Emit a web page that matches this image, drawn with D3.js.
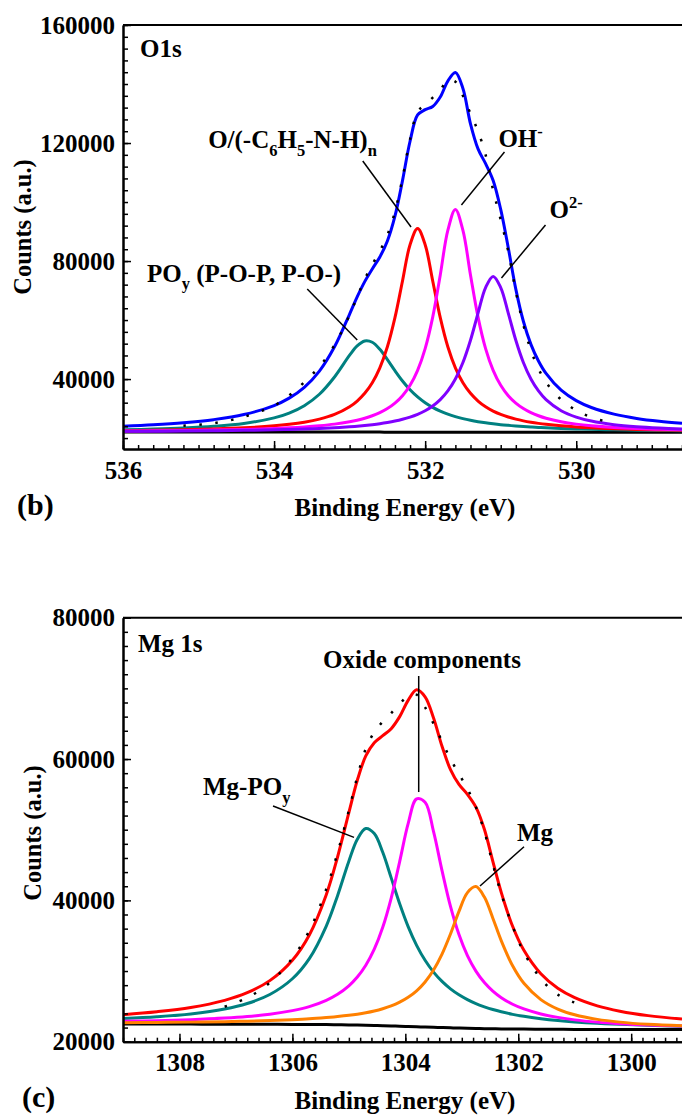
<!DOCTYPE html>
<html>
<head>
<meta charset="utf-8">
<script src="https://cdn.jsdelivr.net/npm/d3@7"></script>
<style>
	html, body { margin: 0; padding: 0; background: #ffffff; }
	svg text { font-family: "Liberation Serif", "Times New Roman", serif; font-weight: bold; fill: #000; white-space: pre; }
</style>
</head>
<body>
<div id="xps-figure"></div>
<script>
// ---- O 1s, panel (b) ----
const o1sEnergy = [536.0, 535.6, 535.2, 534.8, 534.4, 534.0, 533.8, 533.6, 533.4, 533.2, 533.0, 532.9, 532.8, 532.7, 532.6, 532.5, 532.4, 532.3, 532.2, 532.1, 532.0, 531.9, 531.8, 531.7, 531.6, 531.5, 531.4, 531.3, 531.2, 531.1, 531.0, 530.9, 530.8, 530.7, 530.6, 530.5, 530.4, 530.2, 530.0, 529.8, 529.5, 529.2, 528.9, 528.6];
const o1sBackground = [22050, 22050, 22050, 22050, 22050, 22050, 22050, 22050, 22050, 22040, 22040, 22030, 22030, 22020, 22020, 22010, 22010, 22000, 22000, 21990, 21990, 21980, 21980, 21970, 21970, 21960, 21960, 21960, 21950, 21950, 21950, 21950, 21950, 21950, 21950, 21950, 21950, 21950, 21950, 21950, 21950, 21950, 21950, 21950];
const o1sPOy = [22810, 23050, 23410, 23980, 24960, 26850, 28490, 30980, 34850, 40700, 48090, 51240, 52900, 52470, 50110, 46610, 42840, 39350, 36370, 33930, 31970, 30390, 29130, 28110, 27280, 26600, 26040, 25570, 25170, 24840, 24550, 24310, 24090, 23910, 23750, 23600, 23480, 23270, 23100, 22960, 22790, 22670, 22570, 22490];
const o1sPolymer = [22520, 22650, 22820, 23080, 23480, 24140, 24650, 25370, 26420, 28020, 30620, 32560, 35170, 38770, 43820, 50940, 60800, 73260, 85510, 91000, 85510, 73260, 60800, 50940, 43820, 38770, 35170, 32560, 30620, 29150, 28020, 27130, 26420, 25840, 25370, 24980, 24650, 24140, 23760, 23480, 23160, 22940, 22770, 22650];
const o1sHydroxide = [22370, 22450, 22560, 22700, 22910, 23240, 23470, 23770, 24180, 24730, 25530, 26060, 26720, 27560, 28620, 30010, 31860, 34380, 37910, 42970, 50330, 60990, 75310, 90380, 97500, 90380, 75310, 60990, 50330, 42970, 37910, 34380, 31860, 30010, 28620, 27560, 26720, 25530, 24730, 24180, 23610, 23240, 22980, 22800];
const o1sOxide = [22280, 22340, 22400, 22500, 22620, 22800, 22920, 23070, 23260, 23510, 23830, 24030, 24270, 24550, 24880, 25280, 25760, 26360, 27110, 28060, 29280, 30890, 33040, 35980, 40030, 45630, 53160, 62350, 71020, 74800, 71020, 62350, 53160, 45630, 40030, 35980, 33040, 29280, 27110, 25760, 24550, 23830, 23380, 23070];
const o1sEnvelope = [23990, 24480, 25180, 26250, 27970, 31030, 33530, 37190, 42690, 50930, 62040, 67860, 73030, 77310, 81370, 86790, 95190, 107270, 120600, 129500, 131300, 132400, 135600, 141000, 143900, 138500, 126500, 118000, 113000, 107300, 97500, 84500, 70500, 59600, 51760, 46120, 41900, 36220, 32700, 30370, 28110, 26670, 25700, 25010];
const o1sRawEnergy = [535.2, 534.8, 534.4, 534.0, 533.8, 533.6, 533.4, 533.2, 533.0, 532.9, 532.8, 532.7, 532.6, 532.5, 532.4, 532.3, 532.2, 532.1, 532.0, 531.9, 531.8, 531.7, 531.6, 531.5, 531.4, 531.3, 531.2, 531.1, 531.0, 530.9, 530.8, 530.7, 530.6, 530.5, 530.4, 530.2, 530.0, 529.8, 529.5];
const o1sRawCounts = [24180, 25050, 27170, 31030, 34430, 38990, 44190, 51530, 61740, 67860, 73830, 78810, 83370, 88790, 96690, 108070, 121300, 130560, 133090, 135400, 138000, 141300, 140800, 136000, 130000, 124000, 116000, 104000, 94000, 83300, 69700, 58400, 49760, 43520, 38900, 33020, 29400, 27070, 24910];
const o1sXTicks = [536, 534, 532, 530];
const o1sYTicks = [40000, 80000, 120000, 160000];

// ---- Mg 1s, panel (c) ----
const mg1sEnergy = [1309.0, 1308.4, 1307.8, 1307.2, 1306.8, 1306.4, 1306.0, 1305.7, 1305.4, 1305.2, 1305.0, 1304.85, 1304.7, 1304.55, 1304.4, 1304.25, 1304.1, 1303.95, 1303.8, 1303.65, 1303.5, 1303.35, 1303.2, 1303.05, 1302.9, 1302.75, 1302.6, 1302.45, 1302.3, 1302.1, 1301.9, 1301.6, 1301.3, 1301.0, 1300.6, 1300.2, 1299.7, 1299.1];
const mg1sBackground = [22500, 22500, 22490, 22480, 22470, 22460, 22450, 22430, 22420, 22400, 22370, 22350, 22320, 22290, 22260, 22220, 22190, 22150, 22110, 22070, 22030, 22000, 21960, 21930, 21900, 21870, 21850, 21830, 21810, 21790, 21780, 21770, 21750, 21740, 21730, 21730, 21720, 21720];
const mg1sPhosphate = [23270, 23530, 23930, 24620, 25400, 26680, 28910, 31760, 36370, 40670, 45540, 48650, 50170, 49460, 46800, 43180, 39520, 36290, 33640, 31520, 29850, 28530, 27480, 26640, 25960, 25390, 24940, 24550, 24230, 23870, 23590, 23260, 23000, 22800, 22600, 22460, 22310, 22190];
const mg1sOxideComp = [22880, 22980, 23120, 23340, 23560, 23890, 24400, 24970, 25860, 26710, 27910, 29150, 30820, 33090, 36190, 40330, 45490, 50860, 54350, 53880, 49720, 44210, 39140, 35160, 32180, 29990, 28370, 27160, 26230, 25300, 24640, 23930, 23440, 23090, 22770, 22550, 22360, 22210];
const mg1sMetal = [22690, 22730, 22770, 22840, 22910, 23000, 23120, 23240, 23420, 23560, 23730, 23890, 24090, 24340, 24660, 25060, 25590, 26280, 27200, 28450, 30140, 32390, 35240, 38440, 41100, 41950, 40460, 37480, 34270, 30740, 28260, 25960, 24620, 23810, 23160, 22770, 22460, 22240];
const mg1sEnvelope = [23830, 24240, 24840, 25850, 26930, 28640, 31530, 35110, 40800, 46140, 52430, 57000, 60440, 62310, 63300, 64300, 66000, 68300, 69800, 68800, 65800, 61800, 58500, 56400, 55000, 53200, 50060, 45530, 41100, 36330, 32930, 29610, 27560, 26230, 25070, 24320, 23690, 23200];
const mg1sRawEnergy = [1307.2, 1306.8, 1306.4, 1306.0, 1305.7, 1305.4, 1305.2, 1305.0, 1304.85, 1304.7, 1304.55, 1304.4, 1304.25, 1304.1, 1303.95, 1303.8, 1303.65, 1303.5, 1303.35, 1303.2, 1303.05, 1302.9, 1302.75, 1302.6, 1302.45, 1302.3, 1302.1, 1301.9, 1301.6, 1301.3, 1301.0];
const mg1sRawCounts = [24950, 26230, 28340, 31830, 35710, 41600, 46740, 52730, 57500, 61440, 63810, 65300, 66500, 67800, 68900, 69100, 67300, 65000, 62500, 60000, 57900, 55800, 53200, 49760, 45130, 40900, 36330, 32630, 28910, 26660, 25530];
const mg1sXTicks = [1308, 1306, 1304, 1302, 1300];
const mg1sYTicks = [20000, 40000, 60000, 80000];

class XpsPanelChart {
	constructor(options) { this.o = options; }

	// PRIVATE METHODS
	#styleAxis(sel, fontSize) {
		sel.attr('font-family', null).attr('font-size', null);
		sel.select('.domain').attr('stroke', '#000').attr('stroke-width', 2);
		sel.selectAll('.tick line').attr('stroke', '#000').attr('stroke-width', 1.5);
		sel.selectAll('text').style('font-size', `${fontSize}px`);
	}
	#richText(parent, pieces, size) {
		const text = parent.append('text').style('font-size', `${size}px`);
		let shift = 0;
		for (const [str, mode] of pieces) {
			const target = mode === 'sub' ? size * 0.3 : mode === 'sup' ? -size * 0.4 : 0;
			text.append('tspan')
				.attr('dy', target - shift)
				.style('font-size', mode ? `${size * 0.66}px` : `${size}px`)
				.text(str);
			shift = target;
		}
		return text;
	}

	// PUBLIC METHODS
	render(root) {
		const o = this.o, b = o.box;
		const x = d3.scaleLinear().domain(o.xDomain).range([b.left, b.right]);
		const y = d3.scaleLinear().domain(o.yDomain).range([b.bottom, b.top]);
		const g = root.append('g');

		g.append('clipPath').attr('id', `clip-${o.id}`)
			.append('rect')
			.attr('x', b.left).attr('y', b.top)
			.attr('width', b.right - b.left).attr('height', b.bottom - b.top);

		const line = d3.line()
			.x(d => x(d[0]))
			.y(d => y(d[1]))
			.curve(d3.curveCatmullRom.alpha(0.5));

		const plot = g.append('g').attr('clip-path', `url(#clip-${o.id})`);
		for (const s of o.series) {
			plot.append('path')
				.datum(d3.zip(s.energy, s.counts))
				.attr('fill', 'none')
				.attr('stroke', s.color)
				.attr('stroke-width', s.width)
				.attr('stroke-dasharray', s.dash || null)
				.attr('stroke-linejoin', 'round')
				.attr('d', line);
		}

		// Leader lines
		g.selectAll('line.leader')
			.data(o.leaders)
			.enter()
			.append('line')
			.attr('class', 'leader')
			.attr('x1', d => x(d[0])).attr('y1', d => y(d[1]))
			.attr('x2', d => x(d[2])).attr('y2', d => y(d[3]))
			.attr('stroke', '#000')
			.attr('stroke-width', 1.5);

		// Axes: minor ticks first, then labelled major ticks
		const xMinor = g.append('g').attr('transform', `translate(0,${b.bottom})`)
			.call(d3.axisBottom(x).tickValues(o.xMinor).tickSize(-4).tickSizeOuter(0).tickFormat(''));
		this.#styleAxis(xMinor, 25);
		const xMajor = g.append('g').attr('transform', `translate(0,${b.bottom})`)
			.call(d3.axisBottom(x).tickValues(o.xTicks).tickSize(-8).tickSizeOuter(0).tickPadding(12).tickFormat(d3.format('d')));
		this.#styleAxis(xMajor, 25);

		const yMinor = g.append('g').attr('transform', `translate(${b.left},0)`)
			.call(d3.axisLeft(y).tickValues(o.yMinor).tickSize(-5).tickSizeOuter(0).tickFormat(''));
		this.#styleAxis(yMinor, 25);
		const yMajor = g.append('g').attr('transform', `translate(${b.left},0)`)
			.call(d3.axisLeft(y).tickValues(o.yTicks).tickSize(-8).tickSizeOuter(0).tickPadding(8).tickFormat(d3.format('d')));
		this.#styleAxis(yMajor, 25);

		// Top frame
		g.append('line')
			.attr('x1', x.range()[0]).attr('x2', x.range()[1])
			.attr('y1', y.range()[1]).attr('y2', y.range()[1])
			.attr('stroke', '#000').attr('stroke-width', 2);

		// Labels inside the plot
		for (const lab of o.labels) {
			this.#richText(g, lab.pieces, lab.size || 25)
				.attr('x', x(lab.at[0]))
				.attr('y', y(lab.at[1]));
		}

		// Axis titles and panel letter
		g.append('text')
			.attr('x', o.xTitleAt[0]).attr('y', o.xTitleAt[1])
			.attr('text-anchor', 'middle')
			.style('font-size', '25px')
			.text('Binding Energy (eV)');
		g.append('text')
			.attr('transform', `translate(${o.yTitleAt[0]},${o.yTitleAt[1]}) rotate(-90)`)
			.attr('text-anchor', 'middle')
			.style('font-size', '24.5px')
			.text('Counts (a.u.)');
		g.append('text')
			.attr('x', o.tagAt[0]).attr('y', o.tagAt[1])
			.style('font-size', '30px')
			.text(o.tag);
	}
}

const minorSteps = (start, end, step) =>
	d3.range(0, Math.floor(Math.abs(end - start) / step + 1e-6) + 1).map(i => +(start - i * step).toFixed(2));

const svg = d3.select('#xps-figure')
	.append('svg')
	.attr('width', 682)
	.attr('height', 1117)
	.style('display', 'block');

new XpsPanelChart({
	id: 'o1s',
	box: { left: 123, top: 25, right: 682, bottom: 449 },
	xDomain: [536, 528.6],
	yDomain: [16300, 160000],
	xTicks: o1sXTicks,
	xMinor: minorSteps(536, 528.6, 0.2),
	yTicks: o1sYTicks,
	yMinor: d3.range(20000, 160001, 4000),
	series: [
		{ energy: o1sEnergy, counts: o1sBackground, color: '#000000', width: 3 },
		{ energy: o1sEnergy, counts: o1sPOy, color: '#008080', width: 3 },
		{ energy: o1sEnergy, counts: o1sPolymer, color: '#ff0000', width: 3 },
		{ energy: o1sEnergy, counts: o1sHydroxide, color: '#ff00ff', width: 3 },
		{ energy: o1sEnergy, counts: o1sOxide, color: '#8000ff', width: 3 },
		{ energy: o1sEnergy, counts: o1sEnvelope, color: '#0000ff', width: 3 },
		{ energy: o1sRawEnergy, counts: o1sRawCounts, color: '#000000', width: 2.5, dash: '2.5 13.5' }
	],
	labels: [
		{ pieces: [['O1s']], at: [535.775, 149150] },
		{ pieces: [['O/(-C'], ['6', 'sub'], ['H'], ['5', 'sub'], ['-N-H)'], ['n', 'sub']], at: [534.873, 118300] },
		{ pieces: [['OH'], ['-', 'sup']], at: [531.03, 118650] },
		{ pieces: [['O'], ['2-', 'sup']], at: [530.354, 94590] },
		{ pieces: [['PO'], ['y', 'sub'], [' (P-O-P, P-O-)']], at: [535.682, 72900] }
	],
	leaders: [
		[532.826, 113900, 532.187, 91540],
		[530.95, 116950, 531.52, 99000],
		[530.407, 92210, 530.99, 74250],
		[533.561, 70520, 532.899, 53240]
	],
	xTitleAt: [405, 516],
	yTitleAt: [31, 227],
	tag: '(b)',
	tagAt: [17, 515]
}).render(svg);

new XpsPanelChart({
	id: 'mg1s',
	box: { left: 123, top: 617.7, right: 682, bottom: 1041.7 },
	xDomain: [1309, 1299.1],
	yDomain: [20000, 80000],
	xTicks: mg1sXTicks,
	xMinor: minorSteps(1309, 1299.1, 0.2),
	yTicks: mg1sYTicks,
	yMinor: d3.range(20000, 80001, 2000),
	series: [
		{ energy: mg1sEnergy, counts: mg1sBackground, color: '#000000', width: 3 },
		{ energy: mg1sEnergy, counts: mg1sPhosphate, color: '#008080', width: 3 },
		{ energy: mg1sEnergy, counts: mg1sOxideComp, color: '#ff00ff', width: 3 },
		{ energy: mg1sEnergy, counts: mg1sMetal, color: '#ff8000', width: 3 },
		{ energy: mg1sEnergy, counts: mg1sEnvelope, color: '#ff0000', width: 3 },
		{ energy: mg1sRawEnergy, counts: mg1sRawCounts, color: '#000000', width: 2.5, dash: '2.5 13.5' }
	],
	labels: [
		{ pieces: [['Mg 1s']], at: [1308.734, 75140] },
		{ pieces: [['Oxide components']], at: [1305.458, 72880] },
		{ pieces: [['Mg-PO'], ['y', 'sub']], at: [1307.583, 54910] },
		{ pieces: [['Mg']], at: [1302.022, 48400] }
	],
	leaders: [
		[1303.763, 71750, 1303.763, 55330],
		[1306.343, 53350, 1304.909, 48920],
		[1301.898, 47590, 1302.677, 42030]
	],
	xTitleAt: [405, 1109],
	yTitleAt: [41, 833],
	tag: '(c)',
	tagAt: [22, 1107]
}).render(svg);
</script>
</body>
</html>
